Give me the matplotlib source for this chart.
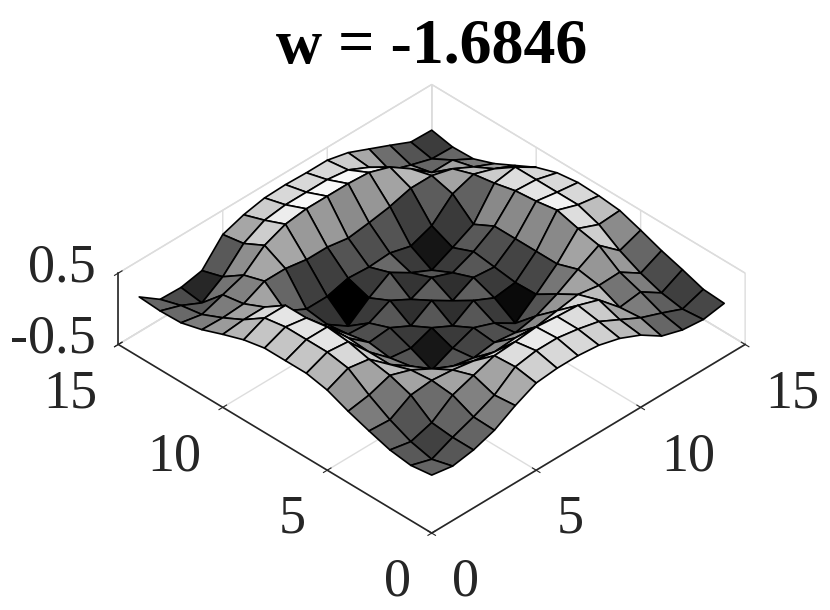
import numpy as np
import matplotlib
matplotlib.use("Agg")
import matplotlib.pyplot as plt
from matplotlib import colors as mcolors
from matplotlib.transforms import ScaledTranslation

title_text = "w = -1.6846"
u_values = list(range(1, 16))
v_values = list(range(1, 16))
xy_ticks = [0, 5, 10, 15]
z_ticks = [-0.5, 0.5]
z_tick_labels = ["-0.5", "0.5"]

row01 = [-.04,-.09,-.04,.06,.23,.37,.40,.40,.37,.29,.16,-.03,-.12,-.15,-.10]
row02 = [-.08,-.17,-.04,.07,.20,.42,.47,.47,.42,.35,.20,.05,-.06,-.18,-.08]
row03 = [-.04,-.10,-.01,.20,.30,.40,.42,.45,.42,.40,.30,.02,.06,-.13,.02]
row04 = [.05,.03,.20,.23,.20,.15,.10,.12,.10,.15,.20,.15,.16,-.03,.11]
row05 = [.15,.20,.30,.20,.04,-.10,-.16,-.12,-.16,-.10,.03,.20,.36,.11,.22]
row06 = [.27,.40,.35,.10,-.10,-.33,-.20,-.09,-.20,-.38,-.15,.10,.42,.30,.32]
row07 = [.33,.45,.42,.10,-.16,-.20,-.09,-.24,-.06,-.20,-.16,.10,.50,.40,.35]
row08 = [.33,.45,.45,.12,-.12,-.09,-.24,-.06,-.24,-.09,-.12,.10,.45,.40,.36]
row09 = [.33,.45,.40,.10,-.18,-.20,-.06,-.22,-.09,-.20,-.08,.10,.42,.40,.32]
row10 = [.27,.40,.40,-.08,-.22,-.42,-.20,-.02,-.20,-.34,-.20,-.05,.35,.40,.22]
row11 = [.17,.20,.20,-.03,-.18,-.18,-.10,-.12,-.10,-.18,-.07,.20,.30,.20,.07]
row12 = [.06,.05,.07,.21,.21,.16,.16,.11,.15,.20,.28,.28,.20,.05,-.08]
row13 = [-.02,-.08,.02,.12,.36,.48,.52,.52,.52,.50,.40,.20,-.03,-.03,-.19]
row14 = [-.03,-.13,-.27,-.08,.21,.36,.40,.40,.40,.36,.22,.00,-.10,-.19,-.20]
row15 = [-.01,-.22,-.23,-.17,.16,.26,.32,.33,.32,.32,.25,.125,.00,-.13,-.14]

Z = np.array([row01,row02,row03,row04,row05,row06,row07,row08,row09,row10,row11,row12,row13,row14,row15])
X, Y = np.meshgrid(v_values, u_values)

plt.rcParams['font.family'] = ['Liberation Serif', 'DejaVu Serif']
fig = plt.figure(figsize=(8.3, 6.1), dpi=100)
S = 1200
cx, cy = 415.5, 285
ax = fig.add_axes([(cx - S/2)/830, (cy - S/2)/610, S/830, S/610], projection='3d', proj_type='ortho')
ax.patch.set_alpha(0)
ax.view_init(elev=37, azim=-135)
ax.set_box_aspect((1, 1, 0.2016), zoom=20.8/(0.03384*S))

norm = mcolors.Normalize(-0.42, 0.55)
fc = plt.get_cmap('gray')(norm(Z))
ax.plot_surface(X, Y, Z, rstride=1, cstride=1, facecolors=fc, shade=False,
                edgecolor='black', linewidth=1.2, antialiased=True)

ax.set_xlim(0, 15, view_margin=0)
ax.set_ylim(0, 15, view_margin=0)
ax.set_zlim(-0.5, 0.5, view_margin=0)
ax.set_xticks(xy_ticks)
ax.set_yticks(xy_ticks)
ax.set_zticks(z_ticks)
ax.set_zticklabels(z_tick_labels)
ax.tick_params(axis='both', labelsize=39, colors='#262626', pad=8)
for a in (ax.xaxis, ax.yaxis, ax.zaxis):
    a.set_pane_color((1, 1, 1, 1))
    a.pane.set_edgecolor('#d9d9d9')
    a.line.set_color('#262626')
    a.line.set_linewidth(1.2)
    a._axinfo['grid'].update(color='#dddddd', linewidth=1.0)
    a._axinfo['tick'].update(inward_factor=0.15, outward_factor=0.15)

def shift(axis, ha, va, dx, dy):
    tr = ax.transData + ScaledTranslation(dx/100, dy/100, fig.dpi_scale_trans)
    orig = axis.get_major_ticks
    def patched(numticks=None):
        ticks = orig(numticks)
        for t in ticks:
            t.label1.set_ha(ha)
            t.label1.set_va(va)
            t.label1.set_transform(tr)
        return ticks
    axis.get_major_ticks = patched

shift(ax.xaxis, 'left', 'top', 9, -15)
shift(ax.yaxis, 'right', 'top', -10, -15)
shift(ax.zaxis, 'right', 'center', 0, 5)
fig.text(432/830, 1-48/610, title_text, fontsize=46, fontweight='bold', ha='center', va='center')
fig.savefig('out.png', dpi=100)
